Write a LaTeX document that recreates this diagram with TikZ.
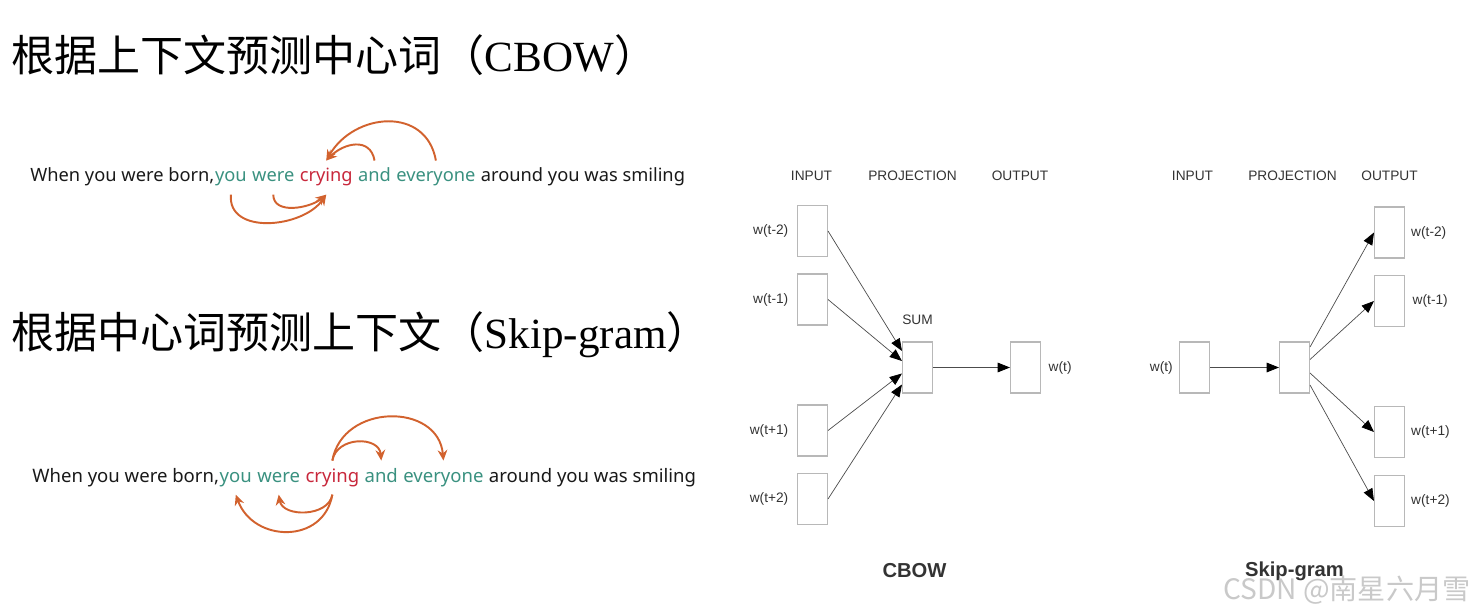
\documentclass[tikz,border=0pt]{standalone}
\usepackage{fontspec}
\usepackage{tikz}
\usetikzlibrary{arrows.meta,positioning,calc}
\newfontfamily\cjkfont{Noto Sans CJK SC}
\newfontfamily\titlefont{Liberation Serif}
\newfontfamily\sentfont{Noto Sans}
\newfontfamily\netfont{Liberation Sans}
\definecolor{boxline}{gray}{0.72}
\definecolor{ctxword}{HTML}{3A9180}
\definecolor{midword}{HTML}{C8283C}
\definecolor{bend}{HTML}{D2622E}
\definecolor{wmark}{gray}{0.75}

\tikzset{
  word/.style={font=\sentfont\fontsize{10.4}{12}\selectfont, inner sep=0pt, text height=12pt, text depth=7pt, text=black!90},
  wordb/.style={word, font=\sentfont\fontsize{10.55}{12}\selectfont},
  hop/.style={draw=bend, line width=1.1pt, -{Stealth[length=6pt,width=5.5pt]}},
  vec/.style={draw=boxline, line width=0.6pt, minimum width=0.6cm, minimum height=1.02cm, inner sep=0pt},
  lbl/.style={font=\netfont\fontsize{7.8}{9}\selectfont, text=black!80},
  feed/.style={draw=black!70, line width=0.4pt, -{Triangle[length=7pt,width=5.5pt,color=black]}},
  title/.style={anchor=west, inner sep=0pt, font=\fontsize{24.5}{28}\selectfont},
  panelname/.style={font=\netfont\bfseries\fontsize{11.5}{13}\selectfont, text=black!80}
}

\begin{document}
\begin{tikzpicture}
\useasboundingbox (0,0) rectangle (29.52,-12.3);

\node[title] (cbowtitle) at (0.22,-1.1) {\cjkfont 根据上下文预测中心词（\titlefont CBOW\cjkfont ）};
\node[title] (skiptitle) at (0.22,-6.7) {\cjkfont 根据中心词预测上下文（\titlefont Skip-gram\cjkfont ）};

\node[word, anchor=base west] (s1a) at (0.6,-3.64) {When you were born,};
\node[word, text=ctxword, base right=0pt of s1a] (s1b) {you};
\node[word, text=ctxword, base right=2.7pt of s1b] (s1c) {were};
\node[word, text=midword, base right=2.7pt of s1c] (s1d) {crying};
\node[word, text=ctxword, base right=2.7pt of s1d] (s1e) {and};
\node[word, text=ctxword, base right=2.7pt of s1e] (s1f) {everyone};
\node[word, base right=2.7pt of s1f] (s1g) {around you was smiling};
\draw[hop] (s1f.north) to[out=100,in=60,looseness=1.3] (s1d.north);
\draw[hop] (s1e.north) to[out=100,in=45,looseness=1.3] (s1d.north);
\draw[hop] (s1b.south) to[out=-95,in=-125,looseness=1.1] (s1d.south);
\draw[hop] (s1c.south) to[out=-90,in=-140,looseness=1.0] (s1d.south);

\node[wordb, anchor=base west] (s2a) at (0.64,-9.64) {When you were born,};
\node[wordb, text=ctxword, base right=0pt of s2a] (s2b) {you};
\node[wordb, text=ctxword, base right=2.7pt of s2b] (s2c) {were};
\node[wordb, text=midword, base right=2.7pt of s2c] (s2d) {crying};
\node[wordb, text=ctxword, base right=2.7pt of s2d] (s2e) {and};
\node[wordb, text=ctxword, base right=2.7pt of s2e] (s2f) {everyone};
\node[wordb, base right=2.7pt of s2f] (s2g) {around you was smiling};
\draw[hop] (s2d.north) to[out=80,in=95,looseness=1.3] (s2e.north);
\draw[hop] (s2d.north) to[out=80,in=95,looseness=1.35] (s2f.north);
\draw[hop] (s2d.south) to[out=-100,in=-80,looseness=1.1] (s2c.south);
\draw[hop] (s2d.south) to[out=-100,in=-70,looseness=1.35] (s2b.south);

\begin{scope}[shift={(16.25,-7.35)}]
\node[lbl] (chin) at (-0.02,3.83) {INPUT};
\node[lbl] (chproj) at (2.0,3.83) {PROJECTION};
\node[lbl] (chout) at (4.15,3.83) {OUTPUT};
\node[vec] (cin1) at (0,2.73) {};
\node[vec] (cin2) at (0,1.36) {};
\node[vec] (cin3) at (0,-1.26) {};
\node[vec] (cin4) at (0,-2.63) {};
\node[lbl, left=0.05 of cin1] (cinl1) {w(t-2)};
\node[lbl, left=0.05 of cin2] (cinl2) {w(t-1)};
\node[lbl, left=0.05 of cin3] (cinl3) {w(t+1)};
\node[lbl, left=0.05 of cin4] (cinl4) {w(t+2)};
\node[vec] (csum) at (2.10,0) {};
\node[lbl, above=0.22 of csum] (csuml) {SUM};
\node[vec] (cout) at (4.26,0) {};
\node[lbl, right=0.03 of cout] (coutl) {w(t)};
\draw[feed] (cin1.east) -- ([yshift=0.33cm]csum.west);
\draw[feed] (cin2.east) -- ([yshift=0.13cm]csum.west);
\draw[feed] (cin3.east) -- ([yshift=-0.12cm]csum.west);
\draw[feed] (cin4.east) -- ([yshift=-0.34cm]csum.west);
\draw[feed] (csum.east) -- (cout.west);
\node[panelname] (cname) at (2.04,-4.06) {CBOW};
\end{scope}

\begin{scope}[shift={(23.89,-7.35)}]
\node[lbl] (shin) at (-0.04,3.83) {INPUT};
\node[lbl] (shproj) at (1.96,3.83) {PROJECTION};
\node[lbl] (shout) at (3.90,3.83) {OUTPUT};
\node[vec] (sin) at (0,0) {};
\node[lbl, left=0 of sin] (sinl) {w(t)};
\node[vec] (sproj) at (2.0,0) {};
\node[vec] (sout1) at (3.90,2.70) {};
\node[vec] (sout2) at (3.90,1.33) {};
\node[vec] (sout3) at (3.90,-1.29) {};
\node[vec] (sout4) at (3.90,-2.67) {};
\node[lbl, right=0 of sout1] (soutl1) {w(t-2)};
\node[lbl, right=0.03 of sout2] (soutl2) {w(t-1)};
\node[lbl, right=0 of sout3] (soutl3) {w(t+1)};
\node[lbl, right=0 of sout4] (soutl4) {w(t+2)};
\draw[feed] (sin.east) -- (sproj.west);
\draw[feed] ([yshift=0.41cm]sproj.east) -- (sout1.west);
\draw[feed] ([yshift=0.16cm]sproj.east) -- (sout2.west);
\draw[feed] ([yshift=-0.11cm]sproj.east) -- (sout3.west);
\draw[feed] ([yshift=-0.35cm]sproj.east) -- (sout4.west);
\node[panelname] (sname) at (2.0,-4.08) {Skip-gram};
\end{scope}

\node[anchor=west, inner sep=0pt, font=\cjkfont\fontsize{16}{18}\selectfont, text=wmark, opacity=0.85] (wm) at (24.46,-11.8) {CSDN @南星六月雪};
\end{tikzpicture}
\end{document}
